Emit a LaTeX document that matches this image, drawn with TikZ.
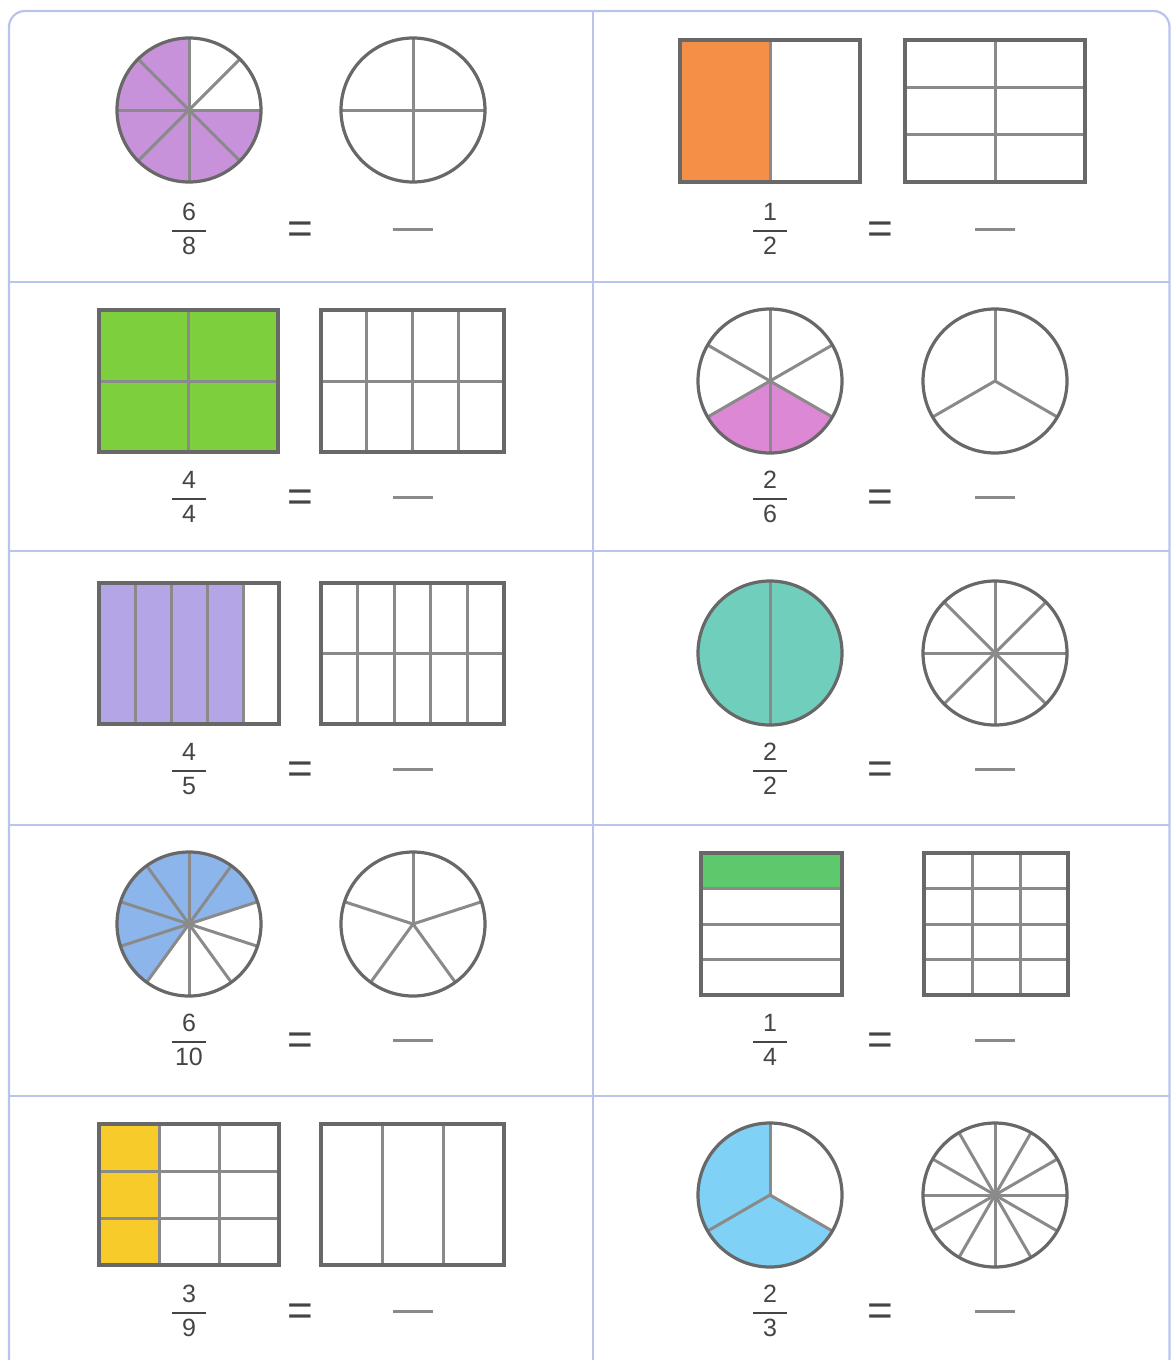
\documentclass[tikz,border=0pt]{standalone}
\usepackage{amsmath}
\usepackage{fontspec}
\setmainfont{Liberation Sans}
\usepackage{xcolor}
\usepackage{tikz}
\usetikzlibrary{positioning}

\definecolor{framebl}{HTML}{B8C4EC}
\definecolor{edge}{HTML}{686868}
\definecolor{inner}{HTML}{8A8A8A}
\definecolor{darktext}{HTML}{454545}
\definecolor{pieviolet}{HTML}{C792DA}
\definecolor{boxorange}{HTML}{F58F48}
\definecolor{boxgreen}{HTML}{7ECF3E}
\definecolor{piepink}{HTML}{DC88D5}
\definecolor{boxlilac}{HTML}{B3A5E6}
\definecolor{pieteal}{HTML}{6FCEBC}
\definecolor{pieblue}{HTML}{8CB6EB}
\definecolor{stripgreen}{HTML}{5DC96C}
\definecolor{boxyellow}{HTML}{F7CC2A}
\definecolor{piesky}{HTML}{7FD1F6}

\begin{document}
\begin{tikzpicture}[x=1pt, y=1pt,
    outline/.style={draw=edge, line width=3.2pt},
    part/.style={draw=inner, line width=3pt},
    divider/.style={draw=framebl, line width=2pt},
    fracnum/.style={font=\fontsize{25}{30}\selectfont, text=darktext, inner sep=0pt},
    eqsign/.style={font=\fontsize{44}{48}\selectfont, text=darktext, inner sep=0pt},
    blankline/.style={inner sep=0pt}]
        \useasboundingbox (0,0) rectangle (1171,-1360);

        % The frame and the cells
        \draw[divider, line width=2.2pt, rounded corners=16pt] (9,-11) rectangle (1169.5,-1374);
        \draw[divider] (593,-11) -- (593,-1360);
        \foreach \y in {282,551,825,1096}
            \draw[divider] (9,-\y) -- (1169.5,-\y);

        % Row 1: 6/8 circle, 1/2 box
        \begin{scope}[shift={(189,-110)}]
            \fill[pieviolet] (0,0) -- (90:72) arc[start angle=90, end angle=360, radius=72] -- cycle;
            \foreach \a in {0,45,...,315} \draw[part] (0,0) -- (\a:72);
            \draw[outline] (0,0) circle[radius=72];
        \end{scope}
        \begin{scope}[shift={(413,-110)}]
            \foreach \a in {0,90,180,270} \draw[part] (0,0) -- (\a:72);
            \draw[outline] (0,0) circle[radius=72];
        \end{scope}
        \fill[boxorange] (680,-40) rectangle (770,-182);
        \draw[part] (770,-40) -- (770,-182);
        \draw[outline] (680,-40) rectangle (860,-182);
        \draw[part] (995,-40) -- (995,-182);
        \foreach \y in {87,134} \draw[part] (905,-\y) -- (1085,-\y);
        \draw[outline] (905,-40) rectangle (1085,-182);

        % Row 2: 4/4 box, 2/6 circle
        \fill[boxgreen] (99,-310) rectangle (278,-452);
        \draw[part] (188.5,-310) -- (188.5,-452);
        \draw[part] (99,-381) -- (278,-381);
        \draw[outline] (99,-310) rectangle (278,-452);
        \foreach \x in {366.75,412.5,458.25} \draw[part] (\x,-310) -- (\x,-452);
        \draw[part] (321,-381) -- (504,-381);
        \draw[outline] (321,-310) rectangle (504,-452);
        \begin{scope}[shift={(770,-381)}]
            \fill[piepink] (0,0) -- (210:72) arc[start angle=210, end angle=330, radius=72] -- cycle;
            \foreach \a in {30,90,...,330} \draw[part] (0,0) -- (\a:72);
            \draw[outline] (0,0) circle[radius=72];
        \end{scope}
        \begin{scope}[shift={(995,-381)}]
            \foreach \a in {90,210,330} \draw[part] (0,0) -- (\a:72);
            \draw[outline] (0,0) circle[radius=72];
        \end{scope}

        % Row 3: 4/5 box, 2/2 circle
        \fill[boxlilac] (99,-583) rectangle (243,-724);
        \foreach \x in {135,171,207,243} \draw[part] (\x,-583) -- (\x,-724);
        \draw[outline] (99,-583) rectangle (279,-724);
        \foreach \x in {357.6,394.2,430.8,467.4} \draw[part] (\x,-583) -- (\x,-724);
        \draw[part] (321,-653.5) -- (504,-653.5);
        \draw[outline] (321,-583) rectangle (504,-724);
        \begin{scope}[shift={(770,-653)}]
            \fill[pieteal] (0,0) circle[radius=72];
            \draw[part] (90:72) -- (270:72);
            \draw[outline] (0,0) circle[radius=72];
        \end{scope}
        \begin{scope}[shift={(995,-653)}]
            \foreach \a in {0,45,...,315} \draw[part] (0,0) -- (\a:72);
            \draw[outline] (0,0) circle[radius=72];
        \end{scope}

        % Row 4: 6/10 circle, 1/4 box
        \begin{scope}[shift={(189,-924)}]
            \fill[pieblue] (0,0) -- (18:72) arc[start angle=18, end angle=234, radius=72] -- cycle;
            \foreach \a in {18,54,...,342} \draw[part] (0,0) -- (\a:72);
            \draw[outline] (0,0) circle[radius=72];
        \end{scope}
        \begin{scope}[shift={(413,-924)}]
            \foreach \a in {18,90,162,234,306} \draw[part] (0,0) -- (\a:72);
            \draw[outline] (0,0) circle[radius=72];
        \end{scope}
        \fill[stripgreen] (701,-853) rectangle (842,-888.5);
        \foreach \y in {888.5,924,959.5} \draw[part] (701,-\y) -- (842,-\y);
        \draw[outline] (701,-853) rectangle (842,-995);
        \foreach \x in {972,1020} \draw[part] (\x,-853) -- (\x,-995);
        \foreach \y in {888.5,924,959.5} \draw[part] (924,-\y) -- (1068,-\y);
        \draw[outline] (924,-853) rectangle (1068,-995);

        % Row 5: 3/9 box, 2/3 circle
        \fill[boxyellow] (99,-1124) rectangle (159,-1265);
        \foreach \x in {159,219} \draw[part] (\x,-1124) -- (\x,-1265);
        \foreach \y in {1171,1218} \draw[part] (99,-\y) -- (279,-\y);
        \draw[outline] (99,-1124) rectangle (279,-1265);
        \foreach \x in {382,443} \draw[part] (\x,-1124) -- (\x,-1265);
        \draw[outline] (321,-1124) rectangle (504,-1265);
        \begin{scope}[shift={(770,-1195)}]
            \fill[piesky] (0,0) -- (90:72) arc[start angle=90, end angle=330, radius=72] -- cycle;
            \foreach \a in {90,210,330} \draw[part] (0,0) -- (\a:72);
            \draw[outline] (0,0) circle[radius=72];
        \end{scope}
        \begin{scope}[shift={(995,-1195)}]
            \foreach \a in {0,30,...,330} \draw[part] (0,0) -- (\a:72);
            \draw[outline] (0,0) circle[radius=72];
        \end{scope}

        % Fractions, equal signs and blanks
        \foreach \y/\lnum/\lden/\rnum/\rden in {229/6/8/1/2, 497/4/4/2/6, 769/4/5/2/2, 1040/6/10/1/4, 1311/3/9/2/3} {
            \node[fracnum] (fl\y) at (189,-\y) {$\genfrac{}{}{1.8pt}{0}{\makebox[34pt]{\lnum}}{\makebox[34pt]{\lden}}$};
            \node[eqsign] (el\y) at (300,-\y-3.5) {=};
            \node[blankline] (bl\y) at (413,-\y) {\textcolor{inner}{\rule{40pt}{3pt}}};
            \node[fracnum] (fr\y) at (770,-\y) {$\genfrac{}{}{1.8pt}{0}{\makebox[34pt]{\rnum}}{\makebox[34pt]{\rden}}$};
            \node[eqsign] (er\y) at (880,-\y-3.5) {=};
            \node[blankline] (br\y) at (995,-\y) {\textcolor{inner}{\rule{40pt}{3pt}}};
        }
\end{tikzpicture}
\end{document}
